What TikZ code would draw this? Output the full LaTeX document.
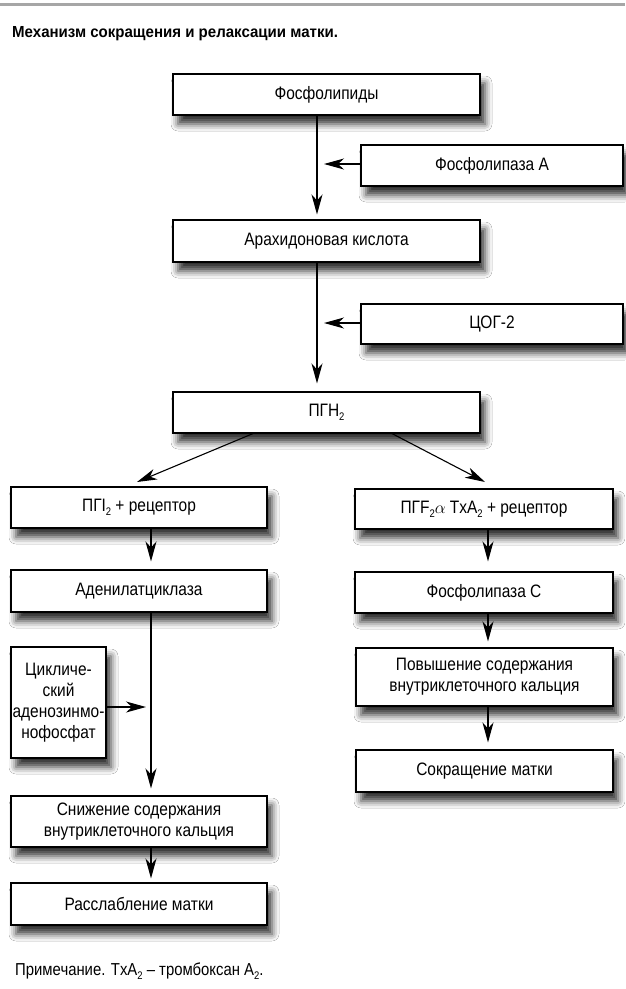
\documentclass[tikz,border=0pt]{standalone}
\usepackage{fontspec}
\setmainfont{Liberation Sans}[FakeStretch=0.86]
\newfontfamily\titlefont{Liberation Sans}[FakeStretch=0.94]
\usetikzlibrary{arrows.meta,shadows.blur}
\newcommand{\lsub}[1]{\raisebox{-0.45ex}{\fontsize{11}{11}\selectfont #1}}
\begin{document}
\begin{tikzpicture}[x=1pt,y=-1pt,
  box/.style={draw=black, line width=1.1pt, fill=white, inner sep=0pt, align=center,
    font=\fontsize{18}{21}\selectfont,
    blur shadow={shadow xshift=5pt, shadow yshift=-9pt, shadow blur radius=7pt, shadow opacity=80}},
  arr/.style={line width=1.1pt, -{Stealth[length=20pt,width=11pt,inset=6pt]}},
  thickl/.style={line width=2.6pt}]
\useasboundingbox (0,0) rectangle (625,989);
\fill[white] (0,0) rectangle (625,989);
\draw[gray!70, line width=2.5pt] (0,4.5) -- (625,4.5);
\node[anchor=base west, inner sep=0pt, font=\titlefont\bfseries\fontsize{16}{18}\selectfont] (title) at (12,37) {Механизм сокращения и релаксации матки.};

\node[box, minimum width=307pt, minimum height=41pt] (fl) at (326.5,94.5) {Фосфолипиды};
\node[box, minimum width=262pt, minimum height=41pt] (fla) at (492,165.5) {Фосфолипаза А};
\node[box, minimum width=307pt, minimum height=42pt] (ak) at (326.5,241) {Арахидоновая кислота};
\node[box, minimum width=262pt, minimum height=40pt] (cog) at (492,324) {ЦОГ-2};
\node[box, minimum width=307pt, minimum height=41pt] (pgh) at (326.5,412.5) {ПГН\lsub{2}};
\node[box, minimum width=256pt, minimum height=41pt] (pgi) at (139,507.5) {ПГI\lsub{2} + рецептор};
\node[box, minimum width=258pt, minimum height=40pt] (pgf) at (484,509) {ПГF\lsub{2}$\alpha$ TxA\lsub{2} + рецептор};
\node[box, minimum width=256pt, minimum height=42pt] (ac) at (139,591) {Аденилатциклаза};
\node[box, minimum width=258pt, minimum height=41pt] (flc) at (484,592.5) {Фосфолипаза С};
\node[box, minimum width=95pt, minimum height=111pt] (camp) at (58.5,702.5) {Цикличе-\\ский\\аденозинмо-\\нофосфат};
\node[box, minimum width=257pt, minimum height=58pt] (pov) at (484.5,677) {Повышение содержания\\внутриклеточного кальция};
\node[box, minimum width=257pt, minimum height=42pt] (sokr) at (484.5,771) {Сокращение матки};
\node[box, minimum width=256pt, minimum height=51pt] (sn) at (139,821.5) {Снижение содержания\\внутриклеточного кальция};
\node[box, minimum width=256pt, minimum height=42pt] (ras) at (139,904) {Расслабление матки};
\node[anchor=base west, inner sep=0pt, font=\fontsize{17.3}{19}\selectfont] (note) at (15,975) {Примечание. TxA\lsub{2} – тромбоксан A\lsub{2}.};

% main column
\coordinate (j1) at (317,150);
\coordinate (j2) at (317,298);
\coordinate (t1) at (324,164);
\coordinate (t2) at (324,323);
\draw[thickl] (fl.south -| j1) -- (j1);
\draw[arr, shorten >=5pt] (j1) -- (ak.north -| j1);
\draw[arr] (fla.west |- t1) -- (t1);
\draw[thickl] (ak.south -| j2) -- (j2);
\draw[arr, shorten >=8pt] (j2) -- (pgh.north -| j2);
\draw[arr] (cog.west |- t2) -- (t2);

% branches
\coordinate (d1) at (253,0);
\coordinate (d2) at (137,482);
\coordinate (d3) at (392,0);
\coordinate (d4) at (485,482);
\draw[arr] (pgh.south -| d1) -- (d2);
\draw[arr] (pgh.south -| d3) -- (d4);

% left column
\coordinate (lx) at (151,0);
\coordinate (j3) at (151,647);
\coordinate (t3) at (146,707);
\draw[arr, shorten >=8pt] (pgi.south -| lx) -- (ac.north -| lx);
\draw[thickl] (ac.south -| lx) -- (j3);
\draw[arr, shorten >=7pt] (j3) -- (sn.north -| lx);
\draw[arr] (camp.east |- t3) -- (t3);
\draw[arr, shorten >=4pt] (sn.south -| lx) -- (ras.north -| lx);

% right column
\coordinate (rx) at (488,0);
\draw[arr, shorten >=10pt] (pgf.south -| rx) -- (flc.north -| rx);
\draw[arr, shorten >=6pt] (flc.south -| rx) -- (pov.north -| rx);
\draw[arr, shorten >=7pt] (pov.south -| rx) -- (sokr.north -| rx);
\end{tikzpicture}
\end{document}
